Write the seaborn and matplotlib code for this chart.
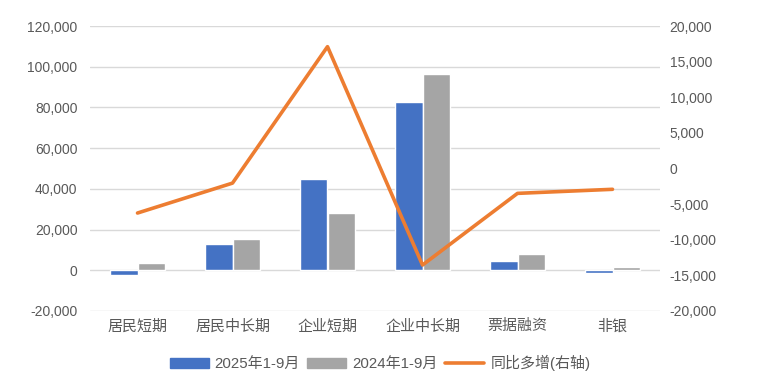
import numpy as np
import pandas as pd
import matplotlib
matplotlib.use("Agg")
import matplotlib.pyplot as plt
import matplotlib.ticker as mticker
from matplotlib.patches import Patch
from matplotlib.lines import Line2D
import seaborn as sns

# data
categories = ["居民短期", "居民中长期", "企业短期", "企业中长期", "票据融资", "非银"]
loans_2025 = [-2500, 12800, 44700, 82700, 4600, -1100]
loans_2024 = [3600, 15200, 28200, 96300, 7900, 1500]
yoy_change = [-6250, -2050, 17100, -13550, -3490, -2920]
series_names = ["2025年1-9月", "2024年1-9月", "同比多增(右轴)"]

sns.set_theme(style="white")
plt.rcParams["font.family"] = ["Liberation Sans", "Noto Sans CJK SC", "DejaVu Sans"]
plt.rcParams["axes.unicode_minus"] = False

df = pd.DataFrame({
    "cat": categories * 2,
    "value": loans_2025 + loans_2024,
    "series": [series_names[0]] * 6 + [series_names[1]] * 6,
})

blue, gray, orange = "#4472C4", "#A5A5A5", "#ED7D31"
txt = "#595959"

fig = plt.figure(figsize=(7.6, 3.91), dpi=100)
ax = fig.add_axes([90 / 760, 1 - 311 / 391, 570 / 760, 285 / 391])

sns.barplot(data=df, x="cat", y="value", hue="series", palette=[blue, gray],
            width=0.57, gap=0, saturation=1, ax=ax, legend=False)
ax.set_ylim(-20000, 120000)
ax.set_yticks(np.arange(-20000, 120001, 20000))
ax.yaxis.set_major_formatter(mticker.FuncFormatter(lambda v, p: f"{int(v):,}"))
ax.grid(axis="y", color="#d9d9d9", linewidth=1)
ax.set_axisbelow(True)
ax.set_xlabel("")
ax.set_ylabel("")
for s in ax.spines.values():
    s.set_visible(False)
ax.tick_params(axis="x", length=0, labelsize=10.8, colors=txt, pad=6)
ax.tick_params(axis="y", length=0, labelsize=10, colors=txt, pad=9)
ax.set_xlim(-0.5, 5.5)

ax2 = ax.twinx()
sns.lineplot(x=list(range(len(categories))), y=yoy_change, color=orange,
             linewidth=2.6, ax=ax2, sort=False)
ax2.set_ylim(-20000, 20000)
ax2.set_yticks(np.arange(-20000, 20001, 5000))
ax2.yaxis.set_major_formatter(mticker.FuncFormatter(lambda v, p: f"{int(v):,}"))
for s in ax2.spines.values():
    s.set_visible(False)
ax2.tick_params(axis="y", length=0, labelsize=10, colors=txt, pad=7)
ax2.grid(False)
ax2.set_xlim(-0.5, 5.5)

handles = [Patch(color=blue), Patch(color=gray), Line2D([0], [0], color=orange, linewidth=2.6)]
fig.legend(handles, series_names, loc="center", bbox_to_anchor=(0.5, 1 - 363 / 391),
           ncol=3, frameon=False, fontsize=10.8, labelcolor=txt, handlelength=2.6,
           handleheight=0.6, handletextpad=0.4, columnspacing=0.5)

fig.savefig("out.png", dpi=100, facecolor="white")
